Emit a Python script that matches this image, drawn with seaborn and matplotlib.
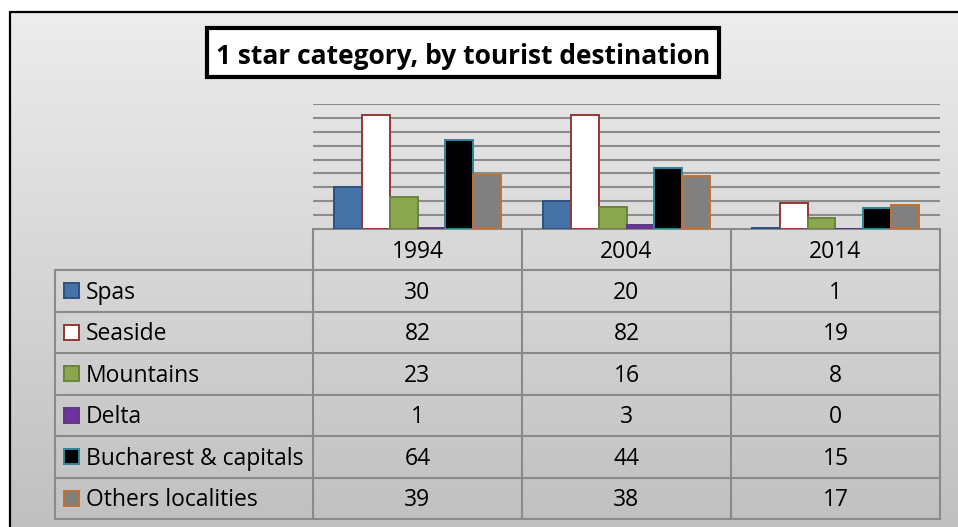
import numpy as np
import pandas as pd
import matplotlib
matplotlib.use('Agg')
import matplotlib.pyplot as plt
from matplotlib.patches import Rectangle
import seaborn as sns

years = ['1994', '2004', '2014']
destinations = ['Spas', 'Seaside', 'Mountains', 'Delta', 'Bucharest & capitals', 'Others localities']
spas = [30, 20, 1]
seaside = [82, 82, 19]
mountains = [23, 16, 8]
delta = [1, 3, 0]
bucharest = [64, 44, 15]
others = [39, 38, 17]
values = [spas, seaside, mountains, delta, bucharest, others]

fill_colors = ['#4572a7', '#ffffff', '#8aa64e', '#7030a0', '#000000', '#808080']
edge_colors = ['#2c5281', '#953735', '#6a843a', '#5a3a80', '#31859c', '#c0722f']
title = '1 star category, by tourist destination'

df = pd.DataFrame({
    'year': years * len(destinations),
    'destination': np.repeat(destinations, len(years)),
    'count': np.concatenate(values),
})

sns.set_theme(style='white')
plt.rcParams['font.family'] = ['Open Sans', 'DejaVu Sans']

W, H = 958, 527
fig = plt.figure(figsize=(W / 100, H / 100), dpi=100)
fig.patch.set_facecolor('white')

# background axes in pixel coords
bg = fig.add_axes([0, 0, 1, 1])
grad = np.linspace(0xED, 0xC0, 256) / 255
bg.imshow(np.tile(grad[:, None, None], (1, 1, 3)), extent=(10, W, H, 12),
          aspect='auto', zorder=0)
bg.set_xlim(0, W)
bg.set_ylim(H, 0)
bg.axis('off')
bg.plot([10, 10], [12, H], color='black', lw=1.6, zorder=1)
bg.plot([10, W], [12, 12], color='black', lw=1.6, zorder=1)

# title box
bg.add_patch(Rectangle((207, 28), 512, 49, fc='white', ec='black', lw=3, zorder=2))
bg.text(463, 64.5, title, ha='center', va='baseline', fontsize=19,
        fontweight='bold', color='black', zorder=3)

# bars
L, R, T, B = 313, 940, 104, 229
ax = fig.add_axes([L / W, 1 - B / H, (R - L) / W, (B - T) / H])
ax.patch.set_alpha(0)
sns.barplot(data=df, x='year', y='count', hue='destination', hue_order=destinations,
            palette=fill_colors, saturation=1, width=0.8, legend=False, ax=ax)
for cont, ec in zip(ax.containers, edge_colors):
    for bar in cont:
        bar.set_edgecolor(ec)
        bar.set_linewidth(1.4)
ax.set_ylim(0, 90)
ax.set_xlim(-0.5, 2.5)
ax.set_yticks(range(10, 91, 10))
ax.yaxis.grid(True, color='#8c8c8c', lw=1.5)
ax.set_axisbelow(True)
ax.tick_params(left=False, bottom=False, labelleft=False, labelbottom=False)
for s in ax.spines.values():
    s.set_visible(False)
ax.set_xlabel('')
ax.set_ylabel('')

# data table
line_c = '#8a8a8a'
col_x = [55, 313, 522, 731, 940]
row_y = [229, 270, 311.5, 353, 394.5, 436, 477.5, 519]
bg.plot([col_x[1], col_x[-1]], [row_y[0], row_y[0]], color=line_c, lw=1.5)
for y in row_y[1:]:
    bg.plot([col_x[0], col_x[-1]], [y, y], color=line_c, lw=1.5)
bg.plot([col_x[0], col_x[0]], [row_y[1], row_y[-1]], color=line_c, lw=1.5)
for x in col_x[1:]:
    bg.plot([x, x], [row_y[0], row_y[-1]], color=line_c, lw=1.5)

fs = 16.5
for j, yr in enumerate(years):
    cx = (col_x[j + 1] + col_x[j + 2]) / 2
    cy = (row_y[0] + row_y[1]) / 2
    bg.text(cx, cy + 8, yr, ha='center', va='baseline', fontsize=fs, color='black')

for i, (name, vals) in enumerate(zip(destinations, values)):
    cy = (row_y[i + 1] + row_y[i + 2]) / 2
    bg.add_patch(Rectangle((64.5, cy - 7.5), 15, 15, fc=fill_colors[i],
                           ec=edge_colors[i], lw=1.4, zorder=3))
    bg.text(86, cy + 7.8, name, ha='left', va='baseline', fontsize=fs, color='black')
    for j, v in enumerate(vals):
        cx = (col_x[j + 1] + col_x[j + 2]) / 2
        bg.text(cx, cy + 8, str(v), ha='center', va='baseline', fontsize=fs, color='black')

fig.savefig('out.png', dpi=100)
